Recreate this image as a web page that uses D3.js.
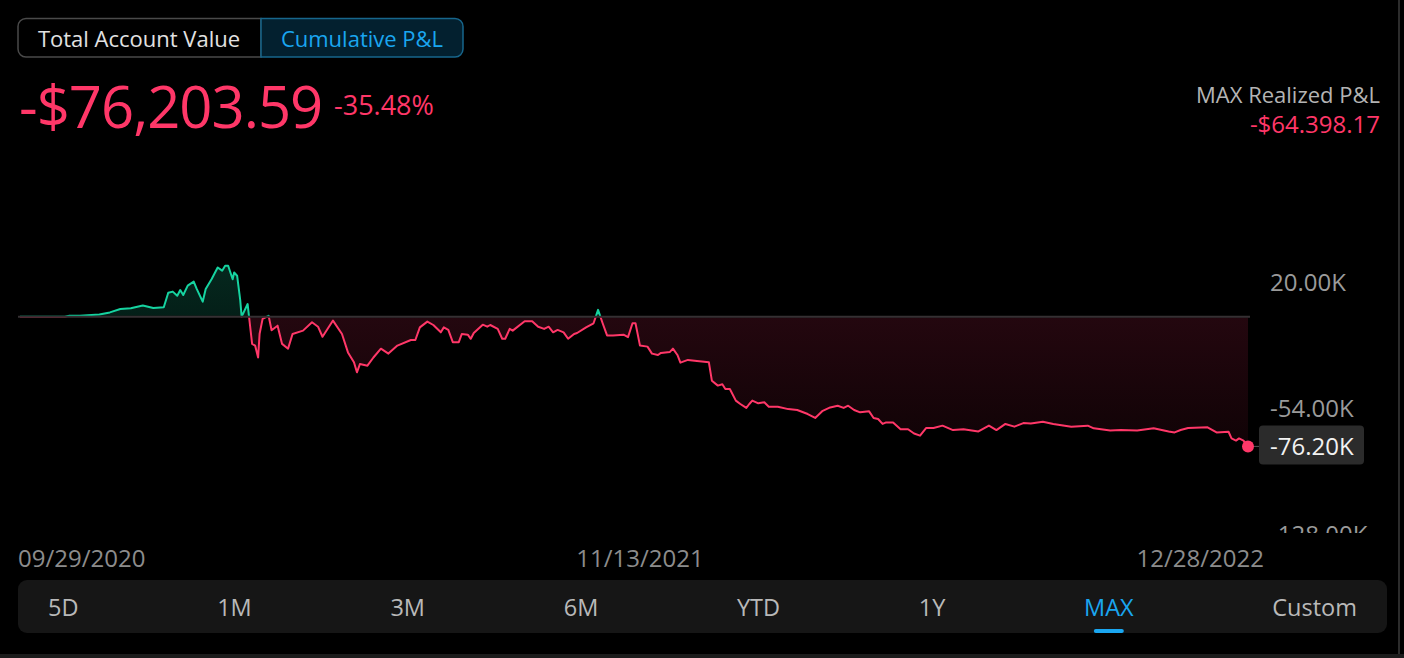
<!DOCTYPE html>
<html>
<head>
<meta charset="utf-8">
<script src="https://cdn.jsdelivr.net/npm/d3@7"></script>
<style>
  body { margin: 0; background: #000; }
  svg { display: block; font-family: "Open Sans", "Noto Sans", sans-serif; }
</style>
</head>
<body>
<div id="wrap"></div>
<script>
// days since 09/29/2020 and cumulative P&L in thousands of dollars
var dayOffsets = [0, 30, 33, 40, 53, 60, 67, 74, 82, 89, 96, 99, 102, 105, 107, 109, 112, 116, 118, 122,
  124, 128, 132, 135, 137, 139, 142, 143, 145, 147, 148, 152, 153, 155, 157, 159, 160, 162, 166, 168,
  172, 175, 179, 182, 189, 195, 199, 202, 209, 215, 219, 223, 225, 227, 232, 236, 241, 246, 252, 261,
  264, 267, 272, 276, 281, 283, 286, 289, 293, 295, 299, 301, 303, 309, 312, 314, 319, 322, 324, 327,
  329, 337, 342, 346, 350, 353, 356, 359, 363, 366, 370, 372, 378, 383, 386, 389, 392, 396, 403, 406,
  409, 411, 414, 419, 422, 426, 428, 434, 436, 439, 441, 446, 452, 460, 462, 466, 469, 471, 474, 478,
  481, 485, 487, 489, 493, 497, 500, 506, 513, 519, 526, 531, 536, 541, 546, 550, 553, 557, 561, 567,
  570, 573, 576, 578, 583, 588, 593, 597, 601, 605, 610, 616, 623, 630, 640, 647, 652, 658, 664, 670,
  675, 683, 690, 702, 713, 717, 728, 735, 746, 757, 767, 771, 775, 780, 793, 799, 807, 809, 812, 814,
  817, 820];
var pnlK = [0, 0, 0.6, 0.5, 1.3, 2.5, 4.5, 4.9, 6.5, 5.1, 5.5, 14, 14.7, 12.3, 15.6, 12.7, 18.2, 20.6, 16.3, 8.8,
  16.3, 22.1, 28.9, 27, 29.9, 29.9, 22, 25.9, 24, 10.2, 0, 7.4, -0.5, -16, -17, -24, -10, -1.3, 0.5, -8,
  -5.3, -16, -18.8, -10.2, -8.2, -3.3, -5.9, -11.8, -2.3, -10.2, -21, -26.8, -32.7, -27.8, -28.8, -24, -18.8, -21.7, -17, -13.7,
  -13.7, -6.3, -2.9, -4.9, -9.2, -6.3, -7.8, -15, -15, -10.2, -10.6, -13, -9.6, -4.7, -5.9, -4.9, -7.2, -13, -13, -7.2,
  -8.2, -2.7, -2.7, -5.9, -7.2, -5.9, -9.2, -7.8, -9.2, -13, -10.2, -9.6, -6.3, -3.9, 4, -3.7, -11, -11, -10.6, -12,
  -3.9, -3.9, -17, -17.6, -21.7, -22.5, -21.3, -20.7, -18.8, -22.5, -27, -25.4, -26, -26.8, -37.6, -40.5, -39.7, -42.5, -42.5, -49.3,
  -51.3, -53.6, -51.3, -49.3, -50.9, -50.3, -52.9, -52.9, -54.3, -54.8, -57.2, -59.5, -55.3, -53.3, -52.3, -53.6, -52.3, -54.8, -56.2, -55.6,
  -59.5, -60.1, -63, -62.2, -62.2, -66.1, -66.1, -68.6, -69.9, -65.4, -65.4, -64, -66.6, -66.1, -67.4, -64, -66.6, -63, -64.6, -62.5,
  -62.7, -61.7, -63, -64.6, -64, -65.6, -66.9, -66.6, -66.9, -65.6, -67.4, -68, -66.6, -65.4, -65, -68, -67.6, -71.5, -72.8, -71.5,
  -72.8, -76.2];
var yTicks = [20, -54, -128];
var dateLabels = ['09/29/2020', '11/13/2021', '12/28/2022'];
var ranges = ['5D', '1M', '3M', '6M', 'YTD', '1Y', 'MAX', 'Custom'];
var activeRange = 'MAX';
var totalPnl = '-$76,203.59', totalPct = '-35.48%', maxRealized = '-$64.398.17', lastLabel = '-76.20K';

var width = 1404, height = 658;
var red = '#ff3768', green = '#16d3a0', blue = '#1aa6f0';

var start = new Date(2020, 8, 29);
var data = dayOffsets.map(function(d, i) {
  return {date: d3.timeDay.offset(start, d), v: pnlK[i]};
});

var svg = d3.select('#wrap').append('svg')
  .attr('width', width)
  .attr('height', height);

svg.append('rect').attr('width', width).attr('height', height).attr('fill', '#000');
svg.append('rect').attr('x', 0).attr('y', 654).attr('width', width).attr('height', 4).attr('fill', '#1c1c1c');
svg.append('rect').attr('x', 1398).attr('y', 0).attr('width', 2).attr('height', 654).attr('fill', '#2c2c2c');

// toggle buttons
var tog = svg.append('g');
tog.append('path')
  .attr('d', 'M261,18.5 H26 a8,8 0 0 0 -8,8 V49 a8,8 0 0 0 8,8 H261 Z')
  .attr('fill', '#000').attr('stroke', '#4a4a4a').attr('stroke-width', 1.5);
tog.append('path')
  .attr('d', 'M261,18.5 H455 a8,8 0 0 1 8,8 V49 a8,8 0 0 1 -8,8 H261 Z')
  .attr('fill', '#03202f').attr('stroke', '#17668c').attr('stroke-width', 1.5);
tog.append('text').attr('x', 139).attr('y', 47).attr('text-anchor', 'middle')
  .attr('font-size', 22).attr('fill', '#e2e2e2').text('Total Account Value');
tog.append('text').attr('x', 362).attr('y', 47).attr('text-anchor', 'middle')
  .attr('font-size', 22).attr('fill', blue).text('Cumulative P&L');

// header values
svg.append('text').attr('x', 19).attr('y', 128).attr('font-size', 58).attr('letter-spacing', -1)
  .attr('fill', red).text(totalPnl);
svg.append('text').attr('x', 334).attr('y', 115).attr('font-size', 27)
  .attr('fill', red).text(totalPct);
svg.append('text').attr('x', 1380).attr('y', 103).attr('text-anchor', 'end')
  .attr('font-size', 22).attr('fill', '#b4b4b4').text('MAX Realized P&L');
svg.append('text').attr('x', 1380).attr('y', 133).attr('text-anchor', 'end')
  .attr('font-size', 24).attr('fill', red).text(maxRealized);

// scales
var x = d3.scaleTime()
  .domain([start, d3.timeDay.offset(start, 820)])
  .range([20, 1248]);
var y = d3.scaleLinear()
  .domain([-128, 20])
  .range([534.6, 282.6]);
var y0 = y(0);

var defs = svg.append('defs');
var gRed = defs.append('linearGradient').attr('id', 'gRed')
  .attr('gradientUnits', 'userSpaceOnUse')
  .attr('x1', 0).attr('x2', 0).attr('y1', y0).attr('y2', y(-76));
gRed.append('stop').attr('offset', 0).attr('stop-color', '#24070f');
gRed.append('stop').attr('offset', 1).attr('stop-color', '#100306');
var gGreen = defs.append('linearGradient').attr('id', 'gGreen')
  .attr('gradientUnits', 'userSpaceOnUse')
  .attr('x1', 0).attr('x2', 0).attr('y1', y(30)).attr('y2', y0);
gGreen.append('stop').attr('offset', 0).attr('stop-color', '#05281e');
gGreen.append('stop').attr('offset', 1).attr('stop-color', '#041f18');

defs.append('clipPath').attr('id', 'above').append('rect')
  .attr('x', 0).attr('y', 0).attr('width', width).attr('height', y0 - 1);
defs.append('clipPath').attr('id', 'below').append('rect')
  .attr('x', 0).attr('y', y0 + 1).attr('width', width).attr('height', height - y0);
defs.append('clipPath').attr('id', 'axisClip').append('rect')
  .attr('x', 1250).attr('y', 240).attr('width', 150).attr('height', 293);

var area = d3.area()
  .x(function(d){return x(d.date);})
  .y0(y0)
  .y1(function(d){return y(d.v);});
var line = d3.line()
  .x(function(d){return x(d.date);})
  .y(function(d){return y(d.v);});

var plot = svg.append('g');
plot.append('path').datum(data).attr('d', area)
  .attr('fill', 'url(#gGreen)').attr('clip-path', 'url(#above)');
plot.append('path').datum(data).attr('d', area)
  .attr('fill', 'url(#gRed)').attr('clip-path', 'url(#below)');

plot.append('line')
  .attr('x1', 18).attr('x2', 1250).attr('y1', y0).attr('y2', y0)
  .attr('stroke', '#363033').attr('stroke-width', 2);

plot.append('path').datum(data).attr('d', line)
  .attr('fill', 'none').attr('stroke', green).attr('stroke-width', 2)
  .attr('stroke-linejoin', 'round').attr('clip-path', 'url(#above)');
plot.append('path').datum(data).attr('d', line)
  .attr('fill', 'none').attr('stroke', red).attr('stroke-width', 2)
  .attr('stroke-linejoin', 'round').attr('clip-path', 'url(#below)');

// y-axis labels
var fmtK = function(d){ return d3.format('.2f')(d).replace('\u2212', '-') + 'K'; };
var yAxis = svg.append('g').attr('clip-path', 'url(#axisClip)');
yAxis.selectAll('text')
  .data(yTicks)
  .enter().append('text')
  .attr('x', 1270)
  .attr('y', function(d){return y(d) + 8.5;})
  .attr('font-size', 24)
  .attr('fill', '#9a9a9a')
  .text(fmtK);

// last value marker
var last = data[data.length - 1];
svg.append('line')
  .attr('x1', x(last.date)).attr('x2', 1259).attr('y1', y(last.v)).attr('y2', y(last.v))
  .attr('stroke', '#555').attr('stroke-width', 1);
svg.append('circle')
  .attr('cx', x(last.date)).attr('cy', y(last.v)).attr('r', 6)
  .attr('fill', red);
svg.append('rect')
  .attr('x', 1259).attr('y', y(last.v) - 21).attr('width', 105).attr('height', 39)
  .attr('rx', 4).attr('fill', '#2b2b2b');
svg.append('text')
  .attr('x', 1270).attr('y', y(last.v) + 8.5)
  .attr('font-size', 24).attr('fill', '#f2f2f2')
  .text(lastLabel);

// date labels
var dateX = [18, 640, 1264], dateAnchor = ['start', 'middle', 'end'];
svg.selectAll('.dateLbl')
  .data(dateLabels)
  .enter().append('text')
  .attr('class', 'dateLbl')
  .attr('x', function(d, i){return dateX[i];})
  .attr('y', 567)
  .attr('text-anchor', function(d, i){return dateAnchor[i];})
  .attr('font-size', 24)
  .attr('fill', '#8c8c8c')
  .text(function(d){return d;});

// range tabs
var bar = svg.append('g');
bar.append('rect')
  .attr('x', 18).attr('y', 580).attr('width', 1369).attr('height', 53)
  .attr('rx', 9).attr('fill', '#161616');
var tabs = bar.selectAll('.tab')
  .data(ranges)
  .enter().append('text')
  .attr('class', 'tab')
  .attr('y', 616)
  .attr('font-size', 23.5)
  .attr('fill', function(d){return d == activeRange ? blue : '#b9b9b9';})
  .text(function(d){return d;});
var widths = [];
tabs.each(function(){ widths.push(this.getComputedTextLength()); });
var innerL = 48, innerR = 1357;
var gap = (innerR - innerL - d3.sum(widths)) / (ranges.length - 1);
var pos = innerL;
tabs.attr('x', function(d, i){
  var p = pos;
  pos += widths[i] + gap;
  return p;
});
var ai = ranges.indexOf(activeRange);
var ax = innerL + d3.sum(widths.slice(0, ai)) + gap * ai + widths[ai] / 2;
bar.append('rect')
  .attr('x', ax - 15).attr('y', 629).attr('width', 30).attr('height', 4)
  .attr('rx', 2).attr('fill', blue);
</script>
</body>
</html>
